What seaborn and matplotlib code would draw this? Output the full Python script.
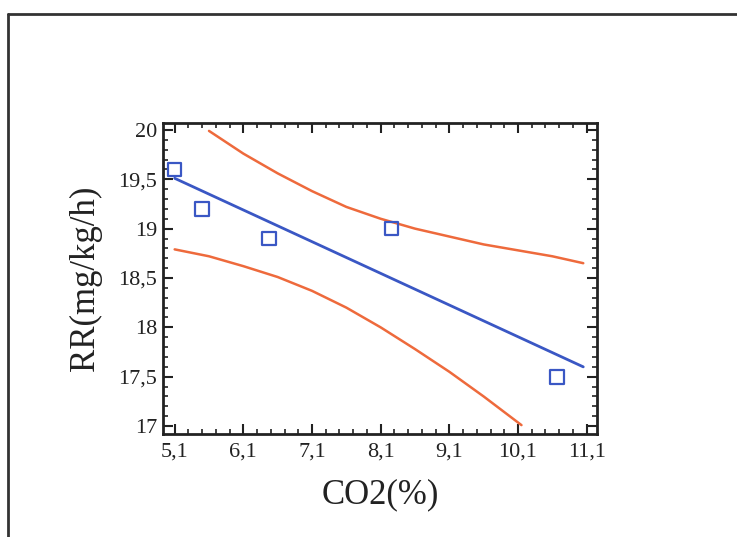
import matplotlib
matplotlib.use("Agg")
import matplotlib.pyplot as plt
from matplotlib.lines import Line2D
from matplotlib.ticker import MultipleLocator, FixedLocator
import seaborn as sns
import pandas as pd

# Observed points
co2 = [5.1, 5.5, 6.47, 8.26, 10.67]
rr = [19.6, 19.2, 18.9, 19.0, 17.5]

# Fitted line
fit_x = [5.1, 11.05]
fit_y = [19.51, 17.60]

# Confidence bands
upper_x = [5.6, 6.1, 6.6, 7.1, 7.6, 8.1, 8.6, 9.1, 9.6, 10.1, 10.6, 11.05]
upper_y = [19.99, 19.76, 19.56, 19.38, 19.22, 19.10, 19.00, 18.92, 18.84, 18.78, 18.72, 18.65]
lower_x = [5.1, 5.6, 6.1, 6.6, 7.1, 7.6, 8.1, 8.6, 9.1, 9.6, 10.15]
lower_y = [18.79, 18.72, 18.62, 18.51, 18.37, 18.20, 18.00, 17.78, 17.55, 17.30, 17.01]

xticks = [5.1, 6.1, 7.1, 8.1, 9.1, 10.1, 11.1]
xticklabels = ["5,1", "6,1", "7,1", "8,1", "9,1", "10,1", "11,1"]
yticks = [17, 17.5, 18, 18.5, 19, 19.5, 20]
yticklabels = ["17", "17,5", "18", "18,5", "19", "19,5", "20"]

sns.set_style("ticks")
plt.rcParams["font.family"] = ["Liberation Serif", "DejaVu Serif"]

BLUE = "#3a57c4"
ORANGE = "#ee6a3c"

fig = plt.figure(figsize=(7.37, 5.37), dpi=100)
ax = fig.add_axes([163 / 737, 1 - 434 / 537, (597 - 163) / 737, (434 - 123) / 537])

sns.lineplot(x=upper_x, y=upper_y, ax=ax, color=ORANGE, lw=1.8, sort=False)
sns.lineplot(x=lower_x, y=lower_y, ax=ax, color=ORANGE, lw=1.8, sort=False)
sns.lineplot(x=fit_x, y=fit_y, ax=ax, color=BLUE, lw=2.0, sort=False)
sns.scatterplot(x=co2, y=rr, ax=ax, marker="s", s=95, facecolor="none",
                edgecolor=BLUE, linewidth=1.6, zorder=5)

ax.set_xlim(4.93, 11.25)
ax.set_ylim(16.92, 20.07)
ax.xaxis.set_major_locator(FixedLocator(xticks))
ax.set_xticklabels(xticklabels)
ax.yaxis.set_major_locator(FixedLocator(yticks))
ax.set_yticklabels(yticklabels)
ax.xaxis.set_minor_locator(FixedLocator([5.1 + 0.2 * i for i in range(-1, 32)]))
ax.yaxis.set_minor_locator(MultipleLocator(0.1))

ax.tick_params(which="both", direction="in", top=True, right=True, colors="#222222",
               labelcolor="#222222", labelsize=16)
ax.tick_params(which="major", length=7, width=1.5)
ax.tick_params(axis="y", which="major", pad=4)
ax.tick_params(axis="x", which="major", pad=6)
ax.tick_params(which="minor", length=3.5, width=1.2)
for sp in ax.spines.values():
    sp.set_linewidth(2.0)
    sp.set_color("#222222")

ax.set_xlabel("CO2(%)", fontsize=25, color="#222222", labelpad=12)
ax.set_ylabel("RR(mg/kg/h)", fontsize=25, color="#222222", labelpad=12)

# scanned frame border
fig.add_artist(Line2D([8 / 737, 8 / 737], [0, 1 - 14 / 537], transform=fig.transFigure,
                      color="#333333", lw=2))
fig.add_artist(Line2D([8 / 737, 1], [1 - 14 / 537, 1 - 14 / 537], transform=fig.transFigure,
                      color="#333333", lw=2))

fig.savefig("out.png", dpi=100)
